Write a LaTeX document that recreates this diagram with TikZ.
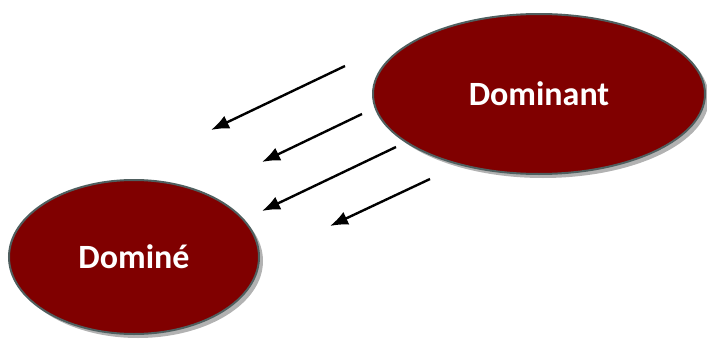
\documentclass[tikz,border=0pt]{standalone}
\usepackage{fontspec}
\setmainfont{Carlito}
\usetikzlibrary{shapes.geometric,shadows,arrows.meta}
\definecolor{bordeaux}{HTML}{800000}
\definecolor{rim}{HTML}{4F5F5F}
\tikzset{
  bulle/.style={ellipse, fill=bordeaux, draw=rim, line width=2pt, inner sep=0pt,
    text=white, font=\fontsize{34}{40}\selectfont\bfseries,
    drop shadow={shadow xshift=4pt, shadow yshift=-4pt, fill=black!30, opacity=1}},
  fleche/.style={-{Latex[length=18pt,width=14pt]}, line width=2.4pt}
}
\begin{document}
\begin{tikzpicture}[x=1pt,y=-1pt]
\useasboundingbox (0,0) rectangle (707,340);
\node[bulle, minimum width=332pt, minimum height=160pt] (dominant) at (539,94) {Dominant};
\node[bulle, minimum width=250pt, minimum height=154pt] (domine) at (134,257) {Dominé};
% les quatre fleches
\coordinate (a1) at (345,66);  \coordinate (b1) at (211,130);
\coordinate (a2) at (362,114); \coordinate (b2) at (262,162);
\coordinate (a3) at (396,147); \coordinate (b3) at (262,211);
\coordinate (a4) at (430,179); \coordinate (b4) at (330,226);
\foreach \i in {1,...,4}
{
    \draw[fleche] (a\i)--(b\i);
}
\end{tikzpicture}
\end{document}
